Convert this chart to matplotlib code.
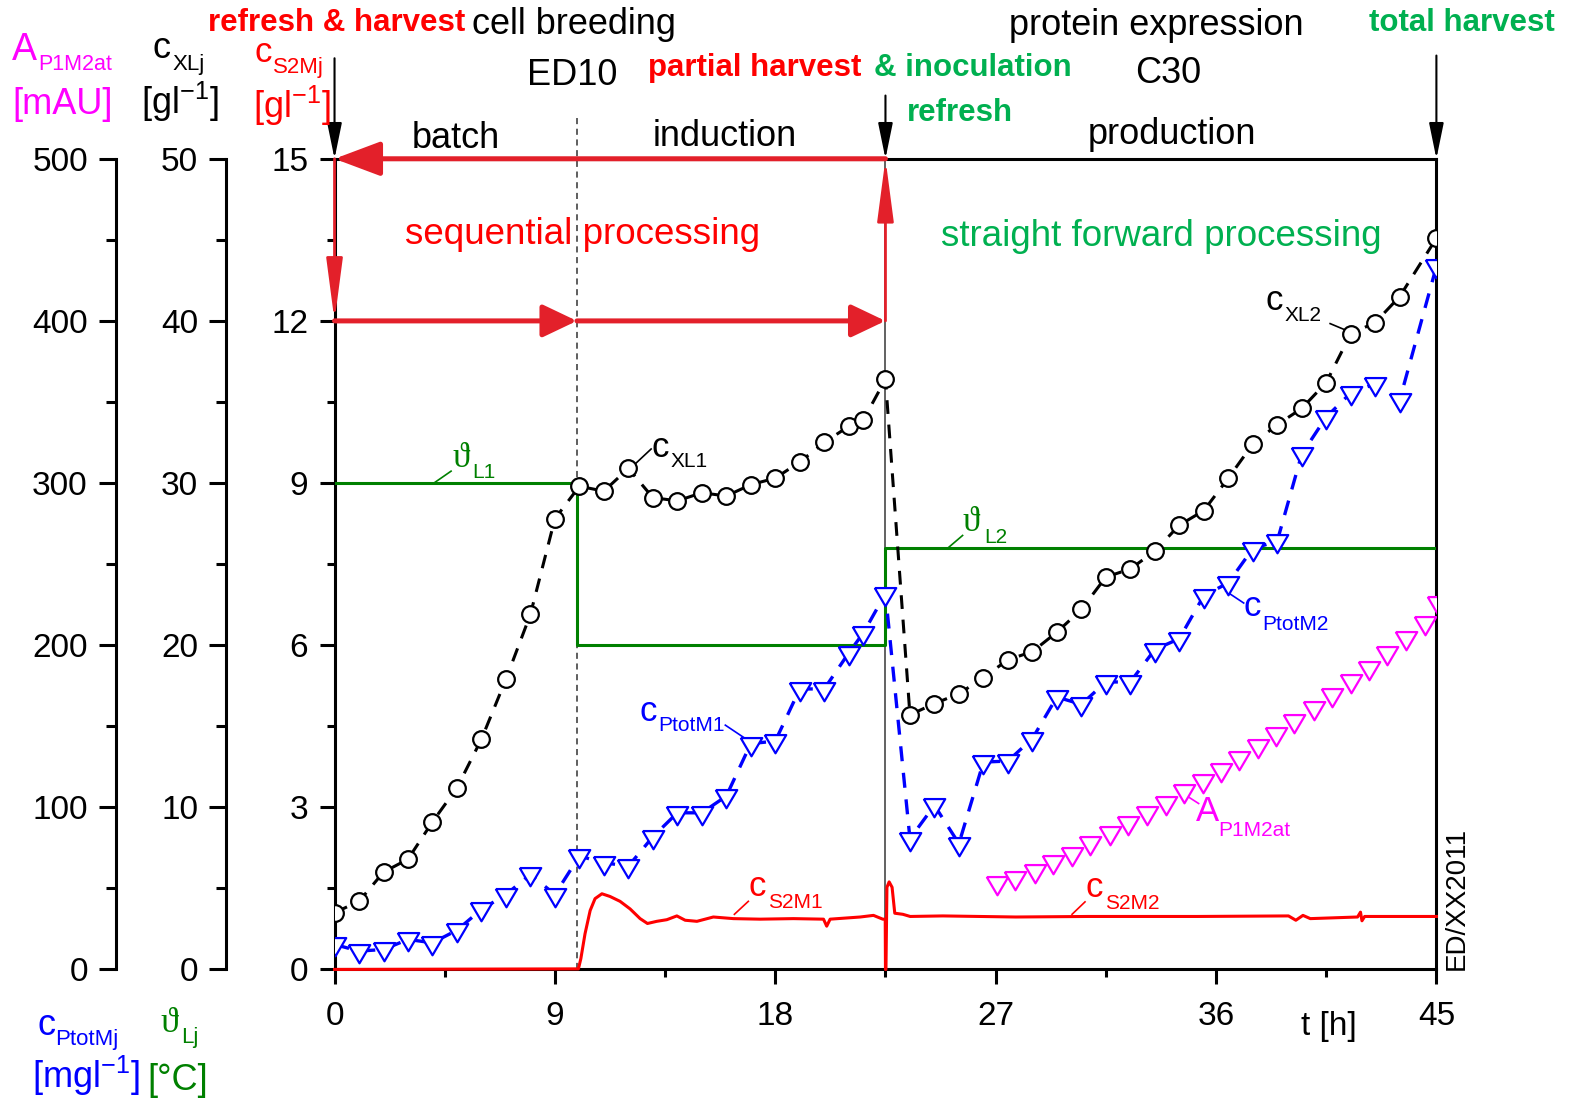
import matplotlib
matplotlib.use("Agg")
import matplotlib.pyplot as plt
from matplotlib.ticker import MultipleLocator

plt.rcParams["font.family"] = ["Liberation Sans", "DejaVu Sans"]
plt.rcParams["mathtext.fontset"] = "custom"
plt.rcParams["mathtext.rm"] = "Liberation Sans"

# ---- data ----
# sampling times [h] for biomass and total protein
t_smp = [0, 1, 2, 3, 4, 5, 6, 7, 8, 9, 10, 11, 12, 13, 14, 15, 16, 17, 18, 19, 20, 21, 21.6, 22.5,
         23.5, 24.5, 25.5, 26.5, 27.5, 28.5, 29.5, 30.5, 31.5, 32.5, 33.5, 34.5, 35.5, 36.5, 37.5,
         38.5, 39.5, 40.5, 41.5, 42.5, 43.5, 45]
# biomass c_XL [g/l]
c_xl = [3.5, 4.2, 6.0, 6.8, 9.1, 11.2, 14.2, 17.9, 21.9, 27.8, 29.8, 29.5, 30.9, 29.1, 28.9, 29.4,
        29.2, 29.9, 30.3, 31.3, 32.5, 33.5, 33.9, 36.4,
        15.7, 16.4, 17.0, 18.0, 19.1, 19.6, 20.8, 22.2, 24.2, 24.7, 25.8, 27.4, 28.3, 30.3, 32.4,
        33.6, 34.6, 36.2, 39.2, 39.9, 41.5, 45.1]
# total protein c_Ptot [mg/l]
c_ptot = [15.4, 11.3, 12.3, 18.5, 16.4, 24.2, 37.0, 46.2, 58.6, 46.2, 69.9, 65.8, 63.7, 81.8, 96.6,
          96.6, 106.9, 139.3, 140.8, 173.0, 173.0, 195.2, 207.6, 231.8,
          80.6, 101.2, 77.6, 127.9, 128.5, 142.4, 168.0, 163.5, 177.3, 177.3, 197.3, 204.0, 230.5,
          238.4, 259.5, 264.2, 317.8, 340.7, 355.5, 361.2, 351.1, 433.6]

# at-line absorbance A_P1M2at [mAU]
t_abs = [27.05, 27.8, 28.6, 29.35, 30.1, 30.85, 31.65, 32.4, 33.2, 33.95, 34.7, 35.45, 36.2, 36.95,
         37.7, 38.45, 39.2, 40.0, 40.75, 41.5, 42.25, 43.0, 43.75, 44.55, 45.05]
a_abs = [53.5, 56.5, 60.5, 66.5, 71.5, 78.0, 84.0, 90.5, 96.5, 102.5, 110.0, 116.0, 123.0, 130.5,
         137.5, 145.0, 153.0, 161.0, 169.5, 178.0, 186.0, 195.0, 204.5, 213.5, 226.0]

# glucose c_S2M [g/l], online signal
t_s2 = [0, 9.96, 10.06, 10.23, 10.44, 10.64, 10.92, 11.25, 11.66, 12.07, 12.48, 12.78, 13.16, 13.57,
        13.98, 14.32, 14.8, 15.47, 16.29, 17.38, 18.74, 19.97, 20.1, 20.24, 21.47, 22.01, 22.39,
        22.49, 22.5, 22.52, 22.56, 22.65, 22.77, 22.88, 23.21, 23.51, 24.84, 27.82, 30.79, 35.25,
        38.96, 39.26, 39.55, 39.85, 41.78, 41.9, 41.96, 42.07, 45]
c_s2 = [0, 0.01, 0.2, 0.66, 1.09, 1.31, 1.40, 1.35, 1.26, 1.12, 0.94, 0.85, 0.89, 0.92,
        0.99, 0.91, 0.89, 0.97, 0.94, 0.93, 0.94, 0.93, 0.80, 0.93, 0.97, 1.00, 0.93,
        0.93, 0, 0, 1.52, 1.62, 1.52, 1.04, 1.02, 0.98, 0.99, 0.97, 0.98, 0.98,
        0.99, 0.91, 1.00, 0.94, 0.97, 1.06, 0.90, 0.98, 0.98]

# culture temperature set points [°C]
t_temp = [0, 9.9, 22.5, 45]
temp = [30, 20, 26, 26]

t_induction = 9.9
t_refresh = 22.5
t_end = 45

RED = "#ff0000"
ARROW_RED = "#e3202a"
GREEN_TXT = "#00b050"
GREEN = "#008000"
BLUE = "#0000ff"
MAGENTA = "#ff00ff"
SERIF = ["Liberation Serif", "DejaVu Serif"]

fig = plt.figure(figsize=(15.75, 10.98), dpi=100)
ax = fig.add_axes([0.2124, 0.1171, 0.6996, 0.7383])
ax_x = ax.twinx()
ax_a = ax.twinx()

# main axis: glucose 0..15
ax.set_xlim(0, t_end)
ax.set_ylim(0, 15)
ax.xaxis.set_major_locator(MultipleLocator(9))
ax.xaxis.set_minor_locator(MultipleLocator(4.5))
ax.yaxis.set_major_locator(MultipleLocator(3))
ax.yaxis.set_minor_locator(MultipleLocator(1.5))
for s in ax.spines.values():
    s.set_linewidth(2.2)
ax.tick_params(which="major", direction="out", length=11, width=2.2, labelsize=24, pad=8)
ax.tick_params(which="minor", direction="out", length=6, width=2.2)
ax.tick_params(axis="x", which="major", pad=12)

# extra left spines for biomass/temperature and protein/absorbance
for a, off, lim, major in ((ax_x, -0.0985, 50, 10), (ax_a, -0.1987, 500, 100)):
    a.set_ylim(0, lim)
    for s in ("right", "top", "bottom"):
        a.spines[s].set_visible(False)
    a.spines["left"].set_visible(True)
    a.spines["left"].set_position(("axes", off))
    a.spines["left"].set_linewidth(2.2)
    a.yaxis.set_ticks_position("left")
    a.yaxis.set_major_locator(MultipleLocator(major))
    a.yaxis.set_minor_locator(MultipleLocator(major / 2))
    a.tick_params(which="major", direction="out", length=12, width=2.2, labelsize=24, pad=8)
    a.tick_params(which="minor", direction="out", length=7, width=2.2)

# process markers
ax.plot([t_induction, t_induction], [0, 15.8], color="#333333", lw=1.1, ls=(0, (4, 3)), clip_on=False)
ax.plot([t_refresh, t_refresh], [0, 15], color="#555555", lw=1.3)

# data
ax.plot(t_s2, c_s2, color=RED, lw=2.2, clip_on=False, zorder=4)
ax_x.step(t_temp, temp, where="post", color=GREEN, lw=2.2)
ax_x.plot(t_smp, c_xl, color="black", lw=2.2, dashes=(4.5, 3.5), marker="o", ms=12,
          mfc="white", mec="black", mew=1.6)
tri = [(-1, 0.6), (1, 0.6), (0, -1.1), (-1, 0.6)]
ax_a.plot(t_smp, c_ptot, color=BLUE, lw=2.4, dashes=(4.5, 3.5), marker=tri, ms=17,
          mfc="white", mec=BLUE, mew=1.6)
ax_a.plot(t_abs, a_abs, ls="none", marker=tri, ms=17, mfc="white", mec=MAGENTA, mew=1.6)


# red processing arrows
def arrow(p0, p1, color, lw, hl, hw):
    ax.annotate("", xy=p1, xytext=p0, annotation_clip=False,
                arrowprops=dict(arrowstyle=f"-|>,head_length={hl},head_width={hw}",
                                color=color, lw=lw, shrinkA=0, shrinkB=0, mutation_scale=1))


arrow((t_refresh, 15), (0, 15), ARROW_RED, 3.6, 28, 10.5)
arrow((0, 15), (0, 12), ARROW_RED, 2.0, 38, 5)
arrow((0, 12), (t_induction, 12), ARROW_RED, 3.6, 21, 10)
arrow((t_induction, 12), (t_refresh, 12), ARROW_RED, 3.6, 21, 10)
arrow((t_refresh, 12), (t_refresh, 15), ARROW_RED, 2.0, 38, 5)
arrow((0, 16.86), (0, 15), "black", 1.5, 22, 4.5)
arrow((t_refresh, 16.17), (t_refresh, 15), "black", 1.5, 22, 4.5)
arrow((t_end, 16.91), (t_end, 15), "black", 1.5, 22, 4.5)


# curve tags with leader lines
def tag(t, v, big, small, color, dx, dy, lead, fam=None):
    kw = dict(color=color, va="baseline", ha="left", annotation_clip=False)
    if fam:
        kw["family"] = fam
    ax.annotate(big, (t, v), fontsize=25, **kw)
    ax.annotate(small, (t, v), xytext=(dx, dy), textcoords="offset points", fontsize=15,
                color=color, va="baseline", ha="left")
    ax.plot(lead[0], lead[1], color=color, lw=1.2)


tag(4.8, 9.29, "ϑ", "L1", GREEN, 14.5, -8, ([4.06, 4.76], [9.0, 9.22]), SERIF)
tag(12.93, 9.48, "c", "XL1", "black", 13.7, -7, ([12.27, 12.93], [9.35, 9.63]))
tag(12.47, 4.59, "c", "PtotM1", BLUE, 13, -7, ([15.96, 16.95], [4.52, 4.22]))
tag(16.9, 1.36, "c", "S2M1", RED, 14.4, -9, ([16.33, 16.9], [1.02, 1.26]))
tag(25.65, 8.12, "ϑ", "L2", GREEN, 15.8, -8.6, ([25.03, 25.65], [7.79, 8.03]), SERIF)
tag(38.04, 12.21, "c", "XL2", "black", 13, -8.6, ([40.66, 41.45], [11.95, 11.8]))
tag(37.13, 6.54, "c", "PtotM2", BLUE, 13, -10, ([36.4, 37.13], [7.0, 6.78]))
tag(35.17, 2.75, "A", "P1M2at", MAGENTA, 16.5, -10.8, ([34.67, 35.29], [3.25, 3.07]))
tag(30.65, 1.34, "c", "S2M2", RED, 14.4, -8.6, ([30.12, 30.65], [1.02, 1.25]))


# figure texts, positions in picture pixels
def ftext(x, y, s, **kw):
    kw.setdefault("va", "baseline")
    kw.setdefault("ha", "left")
    fig.text(x / 1568, 1 - y / 1093, s, **kw)


bold = dict(fontsize=22.5, fontweight="bold")
ftext(207, 31, "refresh & harvest", color=RED, **bold)
ftext(470, 34, "cell breeding", fontsize=26)
ftext(525, 85, "ED10", fontsize=26)
ftext(645, 76, "partial harvest", color=RED, **bold)
ftext(870, 76, "& inoculation", color=GREEN_TXT, **bold)
ftext(903, 120, "refresh", color=GREEN_TXT, **bold)
ftext(1005, 35, "protein expression", fontsize=26)
ftext(1130, 83, "C30", fontsize=26)
ftext(1363, 31, "total harvest", color=GREEN_TXT, **bold)
ftext(410, 147, "batch", fontsize=26)
ftext(650, 145, "induction", fontsize=26)
ftext(1083, 143, "production", fontsize=26)
ftext(403, 243, "sequential processing", color=RED, fontsize=26.5)
ftext(937, 245, "straight forward processing", color=GREEN_TXT, fontsize=26.5)
ftext(1437, 966, "ED/XX2011", fontsize=20, rotation=90, va="bottom")
ftext(1295, 1030, "t [h]", fontsize=24)

# axis titles
inv = r"[gl$^{\mathregular{-1}}$]"
ftext(12, 60, "A", color=MAGENTA, fontsize=27)
ftext(38, 70, "P1M2at", color=MAGENTA, fontsize=15.5)
ftext(12, 113, "[mAU]", color=MAGENTA, fontsize=26)
ftext(152, 58, "c", fontsize=26)
ftext(172, 70, "XLj", fontsize=16)
ftext(140, 113, inv, fontsize=26)
ftext(253, 62, "c", color=RED, fontsize=25)
ftext(272, 73, "S2Mj", color=RED, fontsize=16)
ftext(252, 117, inv, color=RED, fontsize=26)
ftext(37, 1030, "c", color=BLUE, fontsize=26)
ftext(55, 1040, "PtotMj", color=BLUE, fontsize=16)
ftext(32, 1083, r"[mgl$^{\mathregular{-1}}$]", color=BLUE, fontsize=26)
ftext(160, 1027, "ϑ", color=GREEN, fontsize=26, family=SERIF)
ftext(180, 1038, "Lj", color=GREEN, fontsize=16)
ftext(147, 1085, "[°C]", color=GREEN, fontsize=26)

fig.savefig("out.png", dpi=100)
